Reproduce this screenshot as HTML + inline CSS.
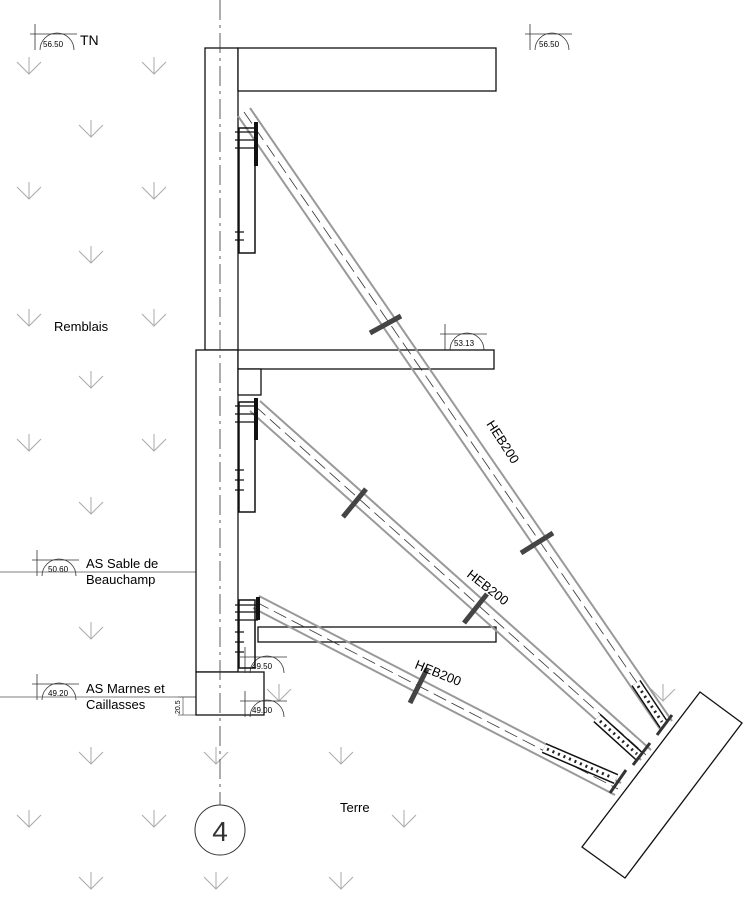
<!DOCTYPE html>
<html><head><style>html,body{margin:0;padding:0;background:#fff}svg{display:block}</style></head>
<body>
<svg width="750" height="899" viewBox="0 0 750 899" xmlns="http://www.w3.org/2000/svg" font-family="Liberation Sans, sans-serif">
<defs>
<g id="ar"><path d="M-12,5 L0,17 L12,5 M0,0 L0,17" fill="none" stroke="#aaa" stroke-width="1"/></g>
<g id="lv"><path d="M-5,-10 V16 M-10,0 H37" stroke="#333" stroke-width="0.8" fill="none"/><path d="M0,16 A17,17 0 0 1 34,16" fill="none" stroke="#333" stroke-width="0.8"/></g>
</defs>
<g>
<use href="#ar" x="29" y="57"/><use href="#ar" x="154" y="57"/>
<use href="#ar" x="91" y="120"/>
<use href="#ar" x="29" y="182"/><use href="#ar" x="154" y="182"/>
<use href="#ar" x="91" y="246"/>
<use href="#ar" x="29" y="309"/><use href="#ar" x="154" y="309"/>
<use href="#ar" x="91" y="371"/>
<use href="#ar" x="29" y="434"/><use href="#ar" x="154" y="434"/>
<use href="#ar" x="91" y="497"/>
<use href="#ar" x="91" y="622"/>
<use href="#ar" x="279" y="684"/>
<use href="#ar" x="91" y="747"/><use href="#ar" x="216" y="747"/><use href="#ar" x="341" y="747"/>
<use href="#ar" x="29" y="810"/><use href="#ar" x="154" y="810"/><use href="#ar" x="404" y="810"/>
<use href="#ar" x="91" y="872"/><use href="#ar" x="216" y="872"/><use href="#ar" x="341" y="872"/>
<use href="#ar" x="663" y="684"/>
</g>
<use href="#lv" x="40" y="34"/><text x="43" y="47" font-size="8">56.50</text>
<text x="80" y="45" font-size="14">TN</text>
<use href="#lv" x="535" y="34"/><text x="539" y="47" font-size="8">56.50</text>
<use href="#lv" x="450" y="334"/><text x="454" y="346" font-size="8">53.13</text>
<use href="#lv" x="42" y="560"/><text x="48" y="572" font-size="8">50.60</text>
<use href="#lv" x="42" y="684"/><text x="48" y="696" font-size="8">49.20</text>
<line x1="0" y1="572" x2="200" y2="572" stroke="#555" stroke-width="0.8"/>
<line x1="0" y1="697" x2="200" y2="697" stroke="#555" stroke-width="0.8"/>
<path d="M183,697 V715 M178,697 H196 M178,715 H196" stroke="#555" stroke-width="0.7" fill="none"/>
<text x="180" y="714" font-size="7" transform="rotate(-90 180 714)">20.5</text>
<text x="54" y="331" font-size="13">Remblais</text>
<text x="86" y="568" font-size="13">AS Sable de</text>
<text x="86" y="584" font-size="13">Beauchamp</text>
<text x="86" y="693" font-size="13">AS Marnes et</text>
<text x="86" y="709" font-size="13">Caillasses</text>
<text x="340" y="812" font-size="13">Terre</text>
<!-- structure -->
<g fill="#fff" stroke="#111" stroke-width="1.3">
<rect x="205" y="48" width="33" height="302"/>
<rect x="238" y="48" width="258" height="43"/>
<rect x="196" y="350" width="42" height="322"/>
<rect x="238" y="350" width="256" height="19"/>
<rect x="238" y="369" width="23" height="26"/>
<rect x="258" y="627" width="238" height="15"/>
<rect x="196" y="672" width="68" height="43"/>
<polygon points="700,692 742,723 625,878 582,847"/>
</g>
<use href="#lv" x="250" y="657"/><text x="252" y="669" font-size="8">49.50</text>
<use href="#lv" x="250" y="701"/><text x="252" y="713" font-size="8">49.00</text>
<!-- struts -->
<g stroke="#999" stroke-width="2" fill="none">
<line x1="250" y1="108" x2="672" y2="721"/><line x1="238" y1="116" x2="660" y2="729"/>
<line x1="260" y1="401" x2="651" y2="750"/><line x1="250" y1="411" x2="641" y2="760"/>
<line x1="259" y1="596" x2="621" y2="783"/><line x1="253" y1="608" x2="615" y2="795"/>
</g>
<g stroke="#333" stroke-width="0.8" stroke-dasharray="14,6" fill="none">
<line x1="244" y1="112" x2="666" y2="725"/>
<line x1="255" y1="406" x2="646" y2="755"/>
<line x1="256" y1="602" x2="618" y2="789"/>
</g>
<!-- wall plates -->
<g stroke="#111" fill="none">
<rect x="239" y="128" width="16" height="125" stroke-width="1.5"/>
<rect x="239" y="402" width="16" height="110" stroke-width="1.5"/>
<rect x="239" y="600" width="16" height="68" stroke-width="1.5"/>
<path d="M256,122 V166 M256,398 V440 M258,597 V620" stroke-width="4"/>
<path d="M235,132 H258 M235,140 H258 M235,148 H258 M235,232 H244 M235,240 H244 M235,406 H258 M235,414 H258 M235,422 H258 M235,470 H244 M235,480 H244 M235,490 H244 M235,605 H258 M235,612 H258 M235,620 H258 M235,632 H244 M235,642 H244 M235,652 H244" stroke-width="1.2"/>
</g>
<line x1="220" y1="0" x2="220" y2="805" stroke="#333" stroke-width="0.8" stroke-dasharray="20,5,3,5"/>
<circle cx="220" cy="830" r="25" fill="#fff" stroke="#333"/>
<text x="220" y="841" font-size="28" text-anchor="middle" fill="#333">4</text>
<g stroke="#444" stroke-width="5">
<line x1="370" y1="333" x2="401" y2="316"/>
<line x1="521" y1="553" x2="553" y2="533"/>
<line x1="343" y1="517" x2="366" y2="489"/>
<line x1="464" y1="623" x2="487" y2="594"/>
<line x1="410" y1="703" x2="427" y2="669"/>
</g>
<!-- end plates -->
<g fill="none">
<g stroke="#111" stroke-width="11">
<line x1="636" y1="683" x2="664" y2="725"/><line x1="597" y1="718" x2="640" y2="757"/><line x1="544" y1="748" x2="616" y2="779"/>
</g>
<g stroke="#fff" stroke-width="8">
<line x1="636" y1="683" x2="664" y2="725"/><line x1="597" y1="718" x2="640" y2="757"/><line x1="544" y1="748" x2="616" y2="779"/>
</g>
<g stroke="#222" stroke-width="3" stroke-dasharray="2,4">
<line x1="638" y1="686" x2="662" y2="722"/><line x1="600" y1="721" x2="637" y2="754"/><line x1="547" y1="749" x2="613" y2="778"/>
</g>
</g>
<g stroke="#333" stroke-width="3">
<line x1="657" y1="735" x2="672" y2="715"/>
<line x1="633" y1="765" x2="650" y2="743"/>
<line x1="610" y1="793" x2="626" y2="770"/>
</g>
<text font-size="13" transform="translate(486,424) rotate(57)">HEB200</text>
<text font-size="13" transform="translate(466,576) rotate(38)">HEB200</text>
<text font-size="13" transform="translate(414,668) rotate(22)">HEB200</text>
</svg>
</body></html>
